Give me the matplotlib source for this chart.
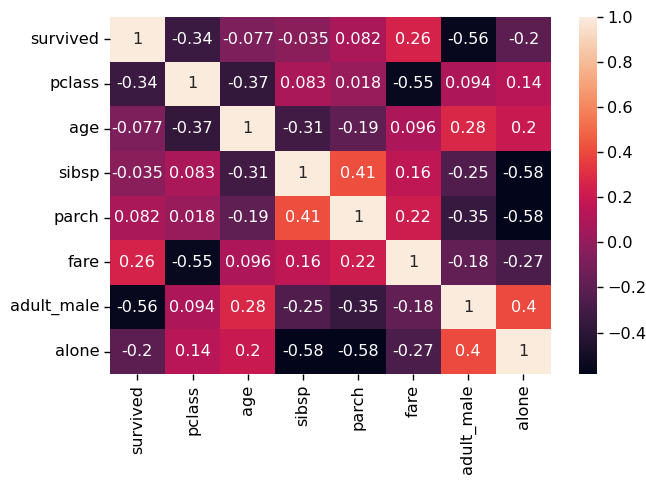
import matplotlib
matplotlib.use("Agg")
import matplotlib.pyplot as plt
import seaborn as sns
import numpy as np

labels = ["survived", "pclass", "age", "sibsp", "parch", "fare", "adult_male", "alone"]

# correlation matrix (rows follow labels)
corr = [
    [1.000, -0.338, -0.077, -0.035, 0.082, 0.257, -0.557, -0.203],
    [-0.338, 1.000, -0.369, 0.083, 0.018, -0.549, 0.094, 0.135],
    [-0.077, -0.369, 1.000, -0.308, -0.189, 0.096, 0.280, 0.198],
    [-0.035, 0.083, -0.308, 1.000, 0.415, 0.160, -0.254, -0.584],
    [0.082, 0.018, -0.189, 0.415, 1.000, 0.216, -0.350, -0.583],
    [0.257, -0.549, 0.096, 0.160, 0.216, 1.000, -0.182, -0.272],
    [-0.557, 0.094, 0.280, -0.254, -0.350, -0.182, 1.000, 0.404],
    [-0.203, 0.135, 0.198, -0.584, -0.583, -0.272, 0.404, 1.000],
]

fs = 11.6

fig = plt.figure(figsize=(6.46, 4.87), dpi=100)
ax = fig.add_axes([0.170, 0.232, 0.683, 0.733])
cax = fig.add_axes([0.896, 0.232, 0.028, 0.733])

sns.heatmap(np.array(corr), annot=True, annot_kws={"size": fs},
            xticklabels=labels, yticklabels=labels, ax=ax, cbar_ax=cax)
ax.tick_params(labelsize=fs, length=4.1, width=1.0)
cax.tick_params(labelsize=fs, length=4.1, width=1.0)

fig.savefig("out.png", dpi=100)
